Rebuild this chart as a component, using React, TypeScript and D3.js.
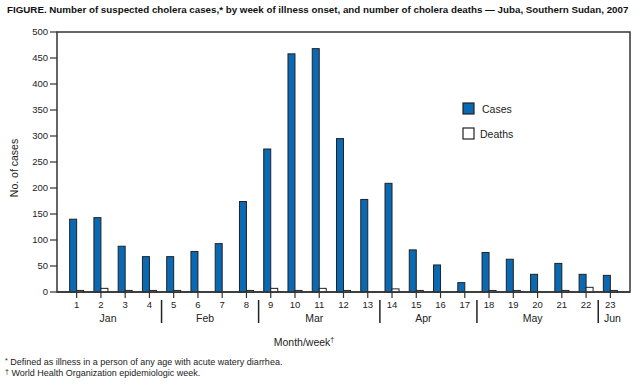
import React, { useLayoutEffect, useRef, useState } from 'react';
import * as d3 from 'd3';

const weeks = ['1','2','3','4','5','6','7','8','9','10','11','12','13','14','15','16','17','18','19','20','21','22','23'];
const cases = [140,143,88,68,68,78,93,174,275,458,468,295,178,209,81,52,18,76,63,34,55,34,32];
const deaths = [3,7,3,3,3,0,0,3,7,3,7,3,0,6,3,0,0,3,3,0,3,9,3];
const monthNames = ['Jan','Feb','Mar','Apr','May','Jun'];
const monthFirstWeek = [1,5,9,14,18,23];
const monthLastWeek = [4,8,13,17,22,23];
const yTicks = [0,50,100,150,200,250,300,350,400,450,500];
const TITLE = 'FIGURE. Number of suspected cholera cases,* by week of illness onset, and number of cholera deaths — Juba, Southern Sudan, 2007';

const W = 641, H = 384;
const left = 57, right = 630, top = 32, bottom = 292;
const BLUE = '#0a69b3';
const DARK = '#222';
const FONT = '"Liberation Sans", Arial, Helvetica, sans-serif';

export default function App() {
  const x = d3.scalePoint<string>().domain(weeks).range([left, right]).padding(0.81);
  const y = d3.scaleLinear().domain([0, 500]).range([bottom, top]);
  const bw = 7;
  const step = x.step();
  const titleRef = useRef<SVGTextElement>(null);
  const [titleSize, setTitleSize] = useState(10.5);

  useLayoutEffect(() => {
    const el = titleRef.current;
    if (!el) return;
    const w = el.getComputedTextLength();
    if (w > 0) {
      const s = Math.min(11.5, titleSize * 622 / w);
      if (Math.abs(s - titleSize) > 0.02) setTitleSize(s);
    }
  }, [titleSize]);

  return (
    <svg width={W} height={H} style={{ position: 'absolute', left: 0, top: 0, background: '#fff' }} fontFamily={FONT}>
      <text ref={titleRef} x={7} y={13} fontFamily='"Liberation Sans Narrow", "Liberation Sans", Arial, sans-serif' fontWeight="bold" fontSize={titleSize} fill="#111">
        {TITLE}
      </text>

      {/* frame */}
      <rect x={left} y={top} width={right - left} height={bottom - top} fill="none" stroke="#333" strokeWidth={1.5} />

      {/* y axis */}
      {yTicks.map(t => (
        <g key={t}>
          <line x1={left - 7} x2={left} y1={y(t)} y2={y(t)} stroke="#333" strokeWidth={1.2} />
          <text x={48} y={y(t) + 3.3} textAnchor="end" fontSize={9.5} fill="#222">{t}</text>
        </g>
      ))}
      <text transform={`translate(18,${(top + bottom) / 2 + 6}) rotate(-90)`} textAnchor="middle" fontSize={10.5} fill="#222">No. of cases</text>

      {/* bars */}
      {weeks.map((w, i) => {
        const cx = x(w)!;
        return (
          <g key={w}>
            <rect x={cx - bw} y={y(cases[i])} width={bw} height={bottom - y(cases[i])} fill={BLUE} stroke={DARK} strokeWidth={1} />
            {deaths[i] > 0 && (
              <rect x={cx} y={y(deaths[i])} width={bw} height={bottom - y(deaths[i])} fill="#fff" stroke={DARK} strokeWidth={1} />
            )}
          </g>
        );
      })}

      {/* redraw baseline */}
      <line x1={left} x2={right} y1={bottom} y2={bottom} stroke="#333" strokeWidth={1.5} />

      {/* x ticks */}
      {weeks.map(w => (
        <g key={'t' + w}>
          <line x1={x(w)!} x2={x(w)!} y1={bottom} y2={bottom + 6} stroke="#333" strokeWidth={1.2} />
          <text x={x(w)!} y={308} textAnchor="middle" fontSize={9.5} fill="#222">{w}</text>
        </g>
      ))}

      {/* month separators and labels */}
      {monthNames.map((m, i) => {
        const a = x(String(monthFirstWeek[i]))!;
        const b = x(String(monthLastWeek[i]))!;
        const sep = i < monthNames.length - 1 ? x(String(monthFirstWeek[i + 1]))! - step / 2 : null;
        const cx = monthFirstWeek[i] === monthLastWeek[i] ? a + 2 : (a + b) / 2 - 5;
        return (
          <g key={m}>
            <text x={cx} y={322} textAnchor="middle" fontSize={10.5} fill="#222">{m}</text>
            {sep !== null && <line x1={sep} x2={sep} y1={300} y2={323} stroke="#222" strokeWidth={1.5} />}
          </g>
        );
      })}

      <text x={304} y={346} textAnchor="middle" fontSize={10.5} fill="#222">
        Month/week<tspan dy={-4} fontSize={7}>†</tspan>
      </text>

      {/* legend */}
      <rect x={463} y={103} width={11} height={11} fill={BLUE} stroke={DARK} strokeWidth={1.2} />
      <text x={482} y={112.5} fontSize={10.5} fill="#222">Cases</text>
      <rect x={463} y={128} width={11} height={11} fill="#fff" stroke={DARK} strokeWidth={1.2} />
      <text x={480} y={137.5} fontSize={10.5} fill="#222">Deaths</text>

      {/* footnotes */}
      <text x={5} y={365} fontSize={9} fill="#222"><tspan fontSize={7} dy={-2}>*</tspan><tspan dy={2}> Defined as illness in a person of any age with acute watery diarrhea.</tspan></text>
      <text x={5} y={376} fontSize={9} fill="#222"><tspan fontSize={7} dy={-2}>†</tspan><tspan dy={2}> World Health Organization epidemiologic week.</tspan></text>
    </svg>
  );
}
